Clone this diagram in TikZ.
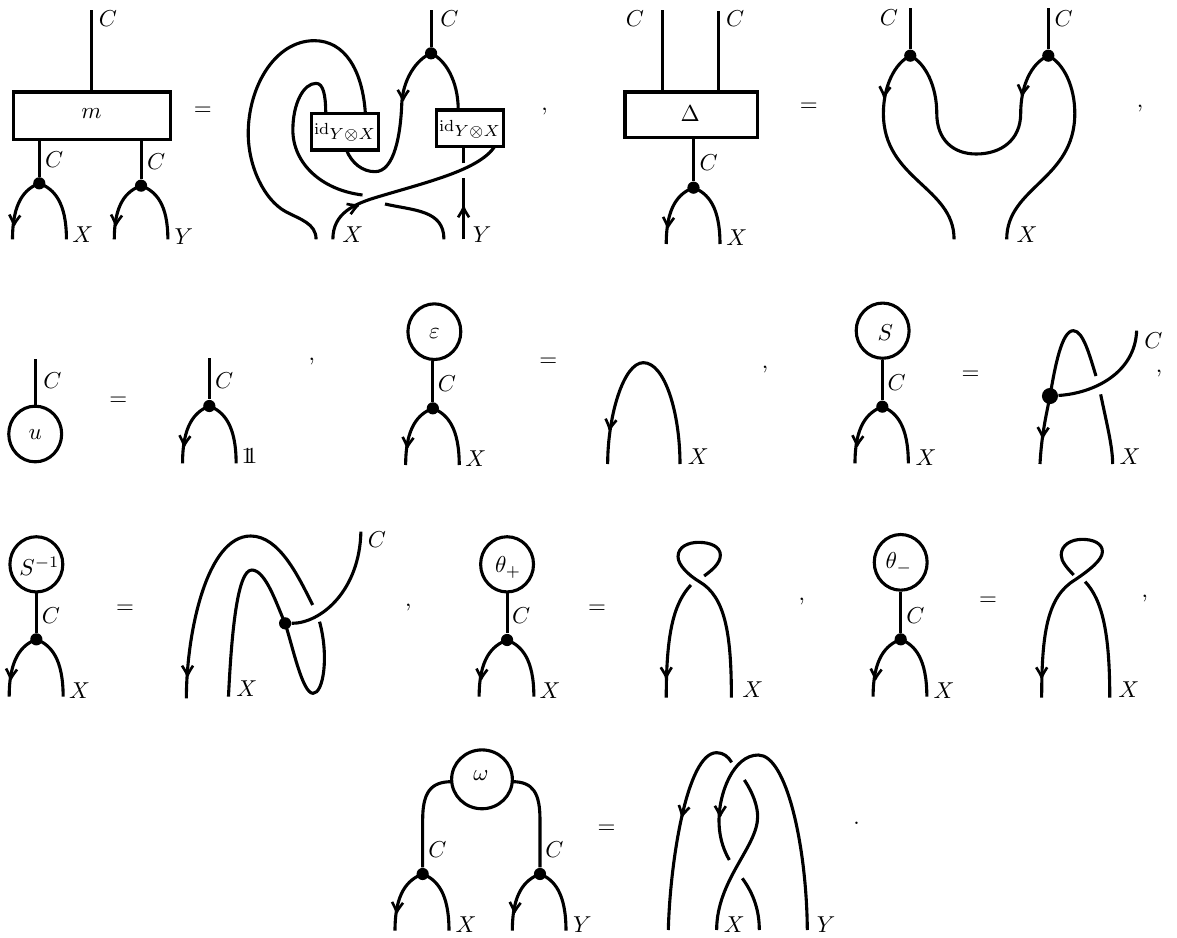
\documentclass[tikz,border=0pt]{standalone}
\usepackage{amsmath}
\usetikzlibrary{shapes.geometric,fit}
\newcounter{labn}
\tikzset{
  strand/.style={line width=1.35pt,line cap=butt,line join=round},
  vdot/.style={circle,fill=black,draw=none,inner sep=0pt,minimum size=5.3pt},
  bigdot/.style={circle,fill=black,draw=none,inner sep=0pt,minimum size=7pt},
  mbox/.style={draw,line width=1.35pt,inner sep=0pt,rectangle},
  oval/.style={draw,line width=1.35pt,ellipse,inner sep=0pt},
  tiplines/.style={line width=1.15pt,line join=round},
  za/.style={shift={(0,0)},x=0.15529pt,y=-0.14493pt},
  zb/.style={shift={(600,0)},x=0.16003pt,y=-0.14493pt},
  zc/.style={shift={(0,300)},x=0.16640pt,y=-0.14493pt},
  zd/.style={shift={(760,300)},x=0.14493pt,y=-0.14493pt},
  ze/.style={shift={(590,340)},x=0.14493pt,y=-0.14493pt},
  zf/.style={shift={(0,500)},x=0.16640pt,y=-0.14493pt},
  zg/.style={shift={(600,500)},x=0.16003pt,y=-0.14493pt},
  zh/.style={shift={(380,730)},x=0.14493pt,y=-0.14493pt},
}
% text label, centred at a point
\newcommand\lab[3]{\stepcounter{labn}\node[inner sep=0pt] (t\thelabn) at (#1,#2) {$#3$};}
% arrow tip: x, y, direction
\newcommand\atip[3]{\draw[tiplines,shift={(#1,#2)},rotate=#3,x=0.4348pt,y=0.4348pt]
  (-10,5.5) .. controls (-6,3) and (-2.5,0.7) .. (0,0) .. controls (-2.5,-0.7) and (-6,-3) .. (-10,-5.5);}
% fork: name, dot x, dot y, left end x, right end x, end y
\newcommand\fork[6]{%
  \node[vdot] (#1) at (#2,#3) {};
  \coordinate (#1l) at (#4,#6);
  \coordinate (#1r) at (#5,#6);
  \draw[strand] (#1.center) .. controls ({#2-0.55*(#2-#4)},{#3+0.1*(#6-#3)}) and (#4,{#3+0.34*(#6-#3)}) .. (#1l);
  \draw[strand] (#1.center) .. controls ({#2+0.55*(#5-#2)},{#3+0.1*(#6-#3)}) and (#5,{#3+0.34*(#6-#3)}) .. (#1r);}
\newcommand\idlab{\scriptstyle\mathrm{id}_{\scriptstyle Y\otimes X}}
\begin{document}
\begin{tikzpicture}[x=0.4348pt,y=-0.4348pt]
\useasboundingbox (0,0) rectangle (1177,938);

% ---------- row 1, m ----------
\begin{scope}[za]
\node[mbox,fit={(38,276) (477,418)}] (mb) {};
\lab{256}{340}{m}
\coordinate (ma) at (256,30);
\draw[strand] (ma) -- (ma |- mb.north);
\lab{302}{55}{C}
\fork{fa}{110}{550}{35}{186}{718}
\fork{fb}{395}{557}{320}{470}{718}
\draw[strand] (fa |- mb.south) -- (fa);
\draw[strand] (fb |- mb.south) -- (fb);
\lab{152}{480}{C}
\lab{437}{485}{C}
\atip{39}{675}{-95}
\atip{324}{675}{-95}
\lab{232}{705}{X}
\lab{515}{710}{Y}
\lab{568}{335}{=}
\node[mbox,fit={(872,340) (1060,450)}] (ba) {};
\node[mbox,fit={(1222,330) (1410,440)}] (bb) {};
\lab{966}{397}{\idlab}
\lab{1316}{388}{\idlab}
\coordinate (tc) at (1207,30);
\node[vdot] (td) at (1207,160) {};
\draw[strand] (tc) -- (td);
\lab{1258}{55}{C}
\coordinate (bbn) at (1283,330);
\coordinate (bas) at (970,450);
\coordinate (ban) at (1023,340);
\coordinate (bam) at (912,340);
\coordinate (bbs) at (1385,440);
\coordinate (oe) at (885,718);
\coordinate (ie) at (1015,585);
\coordinate (xe) at (932,718);
\coordinate (ob) at (1078,612);
\coordinate (oc) at (1243,718);
\coordinate (ya) at (1298,718);
\coordinate (yb) at (1298,535);
\coordinate (yc) at (1298,490);
\draw[strand] (td.center) .. controls (1245,178) and (1283,240) .. (bbn);
\draw[strand] (td.center) .. controls (1165,178) and (1128,240) .. (1125,310) .. controls (1122,400) and (1105,515) .. (1050,515) .. controls (1015,515) and (985,490) .. (bas);
\atip{1128}{300}{-92}
\draw[strand] (ban) .. controls (1015,210) and (965,122) .. (880,122) .. controls (770,122) and (695,260) .. (695,400) .. controls (695,500) and (740,600) .. (800,635) .. controls (840,658) and (885,670) .. (oe);
\draw[strand] (bam) .. controls (912,285) and (905,250) .. (885,250) .. controls (850,250) and (820,310) .. (820,390) .. controls (820,490) and (900,570) .. (ie);
\draw[strand] (bbs) .. controls (1340,510) and (1200,545) .. (1060,590) .. controls (990,612) and (932,640) .. (xe);
\atip{1002}{616}{22}
\draw[strand] (ob) .. controls (1160,632) and (1243,630) .. (oc);
\draw[strand] (ya) -- (yb);
\draw[strand] (yc) -- (yc |- bb.south);
\atip{1298}{622}{90}
\lab{988}{705}{X}
\lab{1350}{705}{Y}
\lab{1525}{335}{,}
\end{scope}

% ---------- row 1, Delta ----------
\begin{scope}[zb]
\node[mbox,fit={(68,276) (428,413)}] (db) {};
\lab{245}{340}{\Delta}
\coordinate (dca) at (170,30);
\coordinate (dcb) at (322,33);
\draw[strand] (dca) -- (dca |- db.north);
\draw[strand] (dcb) -- (dcb |- db.north);
\lab{95}{55}{C}
\lab{367}{55}{C}
\fork{fc}{254}{563}{180}{326}{732}
\draw[strand] (fc |- db.south) -- (fc);
\lab{295}{488}{C}
\lab{372}{712}{X}
\atip{184}{682}{-95}
\lab{567}{323}{=}
\node[vdot] (ua) at (843,167) {};
\node[vdot] (ub) at (1218,167) {};
\coordinate (uca) at (843,24);
\coordinate (ucb) at (1218,24);
\coordinate (uea) at (962,718);
\coordinate (ueb) at (1105,718);
\draw[strand] (uca) -- (ua);
\draw[strand] (ucb) -- (ub);
\lab{785}{52}{C}
\lab{1260}{55}{C}
\draw[strand] (ua.center) .. controls (800,190) and (770,260) .. (770,340) .. controls (770,540) and (962,560) .. (uea);
\draw[strand] (ua.center) .. controls (885,190) and (915,260) .. (915,340) .. controls (915,420) and (960,462) .. (1022,462) .. controls (1090,462) and (1143,420) .. (1143,340) .. controls (1143,260) and (1170,190) .. (ub.center);
\draw[strand] (ub.center) .. controls (1260,190) and (1290,260) .. (1290,340) .. controls (1290,540) and (1105,560) .. (ueb);
\atip{772}{290}{-95}
\atip{1147}{285}{-97}
\lab{1160}{705}{X}
\lab{1467}{325}{,}
\end{scope}

% ---------- row 2 ----------
\begin{scope}[zc]
\node[oval,minimum width=23pt,minimum height=24.2pt] (uo) at (92,402) {};
\lab{92}{405}{u}
\coordinate (uc) at (92,178);
\draw[strand] (uc) -- (uo.north);
\lab{137}{243}{C}
\lab{309}{305}{=}
\fork{fd}{547}{318}{477}{617}{490}
\coordinate (fdt) at (547,175);
\draw[strand] (fdt) -- (fd);
\lab{586}{243}{C}
\atip{481}{437}{-95}
\stepcounter{labn}\node[inner sep=0pt] (t\thelabn) at (652,468) {$1\kern-0.32em 1$};
\lab{815}{185}{,}
\node[oval,minimum width=23pt,minimum height=24.2pt] (eo) at (1135,95) {};
\lab{1135}{100}{\varepsilon}
\fork{fe}{1131}{325}{1060}{1200}{495}
\draw[strand] (fe |- eo.south) -- (fe);
\lab{1168}{250}{C}
\lab{1243}{477}{X}
\atip{1064}{442}{-95}
\lab{1433}{187}{=}
\end{scope}

\begin{scope}[ze]
\coordinate (aa) at (53,372);
\coordinate (ab) at (270,372);
\draw[strand] (aa) .. controls (53,230) and (100,68) .. (160,68) .. controls (225,68) and (270,220) .. (ab);
\atip{59}{268}{-98}
\lab{325}{350}{X}
\lab{525}{88}{,}
\end{scope}

\begin{scope}[zd]
\node[oval,minimum width=23pt,minimum height=24pt] (so) at (368,92) {};
\lab{376}{98}{S}
\fork{ff}{367}{320}{285}{445}{490}
\draw[strand] (ff |- so.south) -- (ff);
\lab{410}{247}{C}
\lab{498}{472}{X}
\atip{291}{437}{-95}
\lab{632}{227}{=}
\node[bigdot] (sd) at (870,288) {};
\coordinate (sa) at (840,492);
\coordinate (sb) at (1008,228);
\coordinate (sc) at (1022,283);
\coordinate (se) at (1058,492);
\coordinate (sf) at (1130,92);
\draw[strand] (sa) .. controls (845,400) and (860,340) .. (sd.center) .. controls (885,200) and (905,92) .. (940,92) .. controls (970,92) and (990,170) .. (sb);
\draw[strand] (sc) .. controls (1040,370) and (1058,440) .. (se);
\draw[strand] (sd) .. controls (1000,280) and (1125,220) .. (sf);
\atip{848}{412}{-93}
\lab{1180}{123}{C}
\lab{1110}{470}{X}
\lab{1197}{220}{,}
\end{scope}

% ---------- row 3 ----------
\begin{scope}[zf]
\node[oval,minimum width=23pt,minimum height=24pt] (sio) at (95,193) {};
\lab{103}{198}{S^{-1}}
\fork{fg}{95}{418}{24}{165}{590}
\draw[strand] (fg |- sio.south) -- (fg);
\lab{133}{347}{C}
\lab{208}{572}{X}
\atip{28}{537}{-95}
\lab{327}{327}{=}
\node[vdot] (nd) at (745,370) {};
\coordinate (na) at (487,595);
\coordinate (nb) at (817,315);
\coordinate (nc) at (597,590);
\coordinate (ne) at (835,365);
\coordinate (nf) at (943,95);
\draw[strand] (na) .. controls (487,400) and (540,108) .. (655,108) .. controls (730,108) and (780,230) .. (nb);
\atip{490}{527}{-90}
\draw[strand] (nc) .. controls (605,400) and (620,210) .. (658,210) .. controls (695,210) and (725,320) .. (nd.center) .. controls (765,440) and (790,580) .. (818,580) .. controls (845,580) and (860,470) .. (ne);
\draw[strand] (nd) .. controls (840,370) and (940,270) .. (nf);
\lab{985}{120}{C}
\lab{645}{567}{X}
\lab{1067}{323}{,}
\node[oval,minimum width=23pt,minimum height=24pt] (tp) at (1325,193) {};
\lab{1328}{203}{\theta_+}
\fork{fh}{1325}{420}{1252}{1395}{590}
\draw[strand] (fh |- tp.south) -- (fh);
\lab{1362}{347}{C}
\lab{1437}{572}{X}
\atip{1257}{537}{-95}
\lab{1560}{327}{=}
\end{scope}

\begin{scope}[zg]
\coordinate (pa) at (357,593);
\coordinate (pb) at (283,228);
\coordinate (pc) at (247,255);
\coordinate (pe) at (180,593);
\draw[strand] (pa) .. controls (357,400) and (340,290) .. (270,245) .. controls (240,225) and (212,195) .. (212,170) .. controls (212,140) and (240,127) .. (268,127) .. controls (300,127) and (327,140) .. (327,165) .. controls (327,190) and (305,210) .. (pb);
\draw[strand] (pc) .. controls (200,310) and (180,400) .. (pe);
\atip{180}{532}{-90}
\lab{415}{570}{X}
\lab{548}{305}{,}
\node[oval,minimum width=23pt,minimum height=24.2pt] (tm) at (817,187) {};
\lab{812}{190}{\theta_-}
\fork{fi}{817}{418}{742}{888}{590}
\draw[strand] (fi |- tm.south) -- (fi);
\lab{857}{347}{C}
\lab{935}{572}{X}
\atip{748}{537}{-95}
\lab{1054}{305}{=}
\coordinate (qa) at (1200,593);
\coordinate (qb) at (1287,225);
\coordinate (qc) at (1318,245);
\coordinate (qe) at (1385,593);
\draw[strand] (qa) .. controls (1200,400) and (1215,290) .. (1290,240) .. controls (1330,210) and (1365,180) .. (1365,155) .. controls (1365,130) and (1340,118) .. (1310,118) .. controls (1280,118) and (1253,135) .. (1253,165) .. controls (1253,185) and (1270,205) .. (qb);
\draw[strand] (qc) .. controls (1365,300) and (1385,400) .. (qe);
\atip{1200}{532}{-90}
\lab{1437}{570}{X}
\lab{1480}{297}{,}
\end{scope}

% ---------- row 4 ----------
\begin{scope}[zh]
\node[oval,minimum width=26.4pt,minimum height=25.6pt] (om) at (306,148) {};
\lab{303}{137}{\omega}
\fork{fj}{128}{432}{45}{207}{602}
\fork{fk}{480}{432}{397}{558}{602}
\coordinate (oml) at (215,155);
\coordinate (omr) at (397,155);
\draw[strand] (oml) .. controls (150,155) and (128,190) .. (128,270) -- (fj);
\draw[strand] (omr) .. controls (460,155) and (480,190) .. (480,270) -- (fk);
\lab{172}{360}{C}
\lab{523}{358}{C}
\lab{258}{585}{X}
\lab{607}{585}{Y}
\atip{50}{547}{-95}
\atip{403}{547}{-95}
\lab{680}{297}{=}
\coordinate (ra) at (865,600);
\coordinate (rb) at (1055,97);
\coordinate (rc) at (1282,600);
\coordinate (re) at (1048,390);
\coordinate (rf) at (1093,150);
\coordinate (rg) at (1010,600);
\coordinate (rh) at (1087,445);
\coordinate (ri) at (1138,600);
\draw[strand] (ra) .. controls (870,400) and (920,68) .. (1010,68) .. controls (1030,68) and (1045,80) .. (rb);
\atip{906}{258}{-103}
\draw[strand] (rc) .. controls (1280,350) and (1220,75) .. (1135,75) .. controls (1060,75) and (1017,190) .. (1017,270) .. controls (1017,310) and (1025,350) .. (re);
\atip{1020}{258}{-92}
\draw[strand] (rf) .. controls (1120,190) and (1133,230) .. (1133,260) .. controls (1133,350) and (1010,450) .. (rg);
\draw[strand] (rh) .. controls (1120,490) and (1138,540) .. (ri);
\lab{1063}{585}{X}
\lab{1338}{585}{Y}
\lab{1430}{280}{.}
\end{scope}
\end{tikzpicture}
\end{document}
